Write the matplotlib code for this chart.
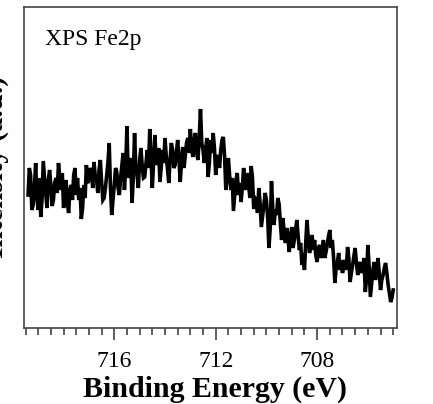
import numpy as np
import matplotlib.pyplot as plt
from matplotlib.ticker import MultipleLocator

plt.rcParams['font.family'] = ['Liberation Serif', 'DejaVu Serif']

# binding energy grid (eV), 0.05 eV step from 719.4 down to 705.0
energy = np.linspace(719.4, 705.0, 289)

# counts (arbitrary units)
intensity = [
    133, 160, 153, 118, 123, 140, 165, 130, 118, 150, 111, 128, 167, 150, 133, 120, 148, 158, 142, 122,
    128, 145, 150, 135, 165, 150, 138, 155, 120, 132, 148, 125, 115, 138, 143, 128, 153, 160, 133, 150,
    128, 140, 109, 120, 143, 130, 163, 145, 148, 160, 156, 140, 166, 152, 150, 135, 158, 168, 146, 128,
    130, 140, 153, 165, 185, 140, 113, 128, 143, 160, 156, 140, 133, 150, 163, 175, 138, 160, 202, 150,
    163, 170, 125, 150, 195, 160, 153, 140, 168, 180, 163, 150, 151, 165, 178, 160, 199, 170, 140, 165,
    193, 170, 163, 180, 146, 160, 178, 165, 190, 172, 158, 145, 168, 185, 178, 160, 163, 175, 188, 170,
    146, 165, 181, 160, 173, 185, 190, 175, 199, 180, 171, 188, 195, 175, 168, 190, 219, 185, 178, 165,
    178, 190, 151, 165, 188, 175, 195, 180, 153, 168, 173, 160, 178, 188, 191, 172, 138, 150, 170, 152,
    138, 150, 117, 132, 148, 155, 133, 145, 126, 140, 160, 148, 138, 155, 143, 130, 162, 150, 119, 130,
    128, 115, 140, 125, 101, 112, 123, 135, 128, 110, 80, 100, 147, 120, 103, 118, 113, 130, 124, 105,
    88, 110, 96, 85, 100, 90, 76, 92, 101, 80, 88, 98, 108, 92, 78, 85, 63, 75, 58, 85,
    108, 90, 75, 82, 93, 78, 88, 72, 66, 80, 83, 70, 78, 88, 70, 76, 83, 92, 98, 80,
    88, 70, 45, 60, 66, 75, 58, 68, 55, 62, 68, 58, 81, 70, 46, 55, 63, 72, 80, 65,
    53, 62, 66, 55, 60, 70, 36, 50, 83, 62, 31, 45, 58, 66, 48, 58, 70, 55, 38, 48,
    53, 60, 65, 55, 43, 35, 26, 30, 38,
]

major_ticks = [716, 712, 708]

fig = plt.figure(figsize=(4.33, 4.04), dpi=100)
ax = fig.add_axes([24 / 433, 1 - 328 / 404, 373 / 433, 321 / 404])

ax.plot(energy, intensity, color='black', lw=2.6, solid_joinstyle='miter')

ax.set_xlim(719.56, 704.85)
ax.set_ylim(0, 321)
ax.set_xticks(major_ticks)
ax.xaxis.set_minor_locator(MultipleLocator(0.5))
ax.set_yticks([])
ax.tick_params(axis='x', which='major', direction='out', length=8.5, width=1.1,
               labelsize=17, pad=8, color='#333333')
ax.tick_params(axis='x', which='minor', direction='out', length=5, width=1.1,
               color='#333333')
for s in ax.spines.values():
    s.set_linewidth(1.2)
    s.set_color('#444444')

ax.set_xlabel('Binding Energy (eV)', fontsize=21.5, fontweight='bold', labelpad=3)
ax.xaxis.label.set_x(0.512)
ax.set_ylabel('Intensity (a.u.)', fontsize=21, fontweight='bold', labelpad=10.5)
ax.text(0.057, 0.93, 'XPS Fe2p', transform=ax.transAxes, fontsize=17,
        ha='left', va='top')

fig.savefig('out.png', dpi=100)
